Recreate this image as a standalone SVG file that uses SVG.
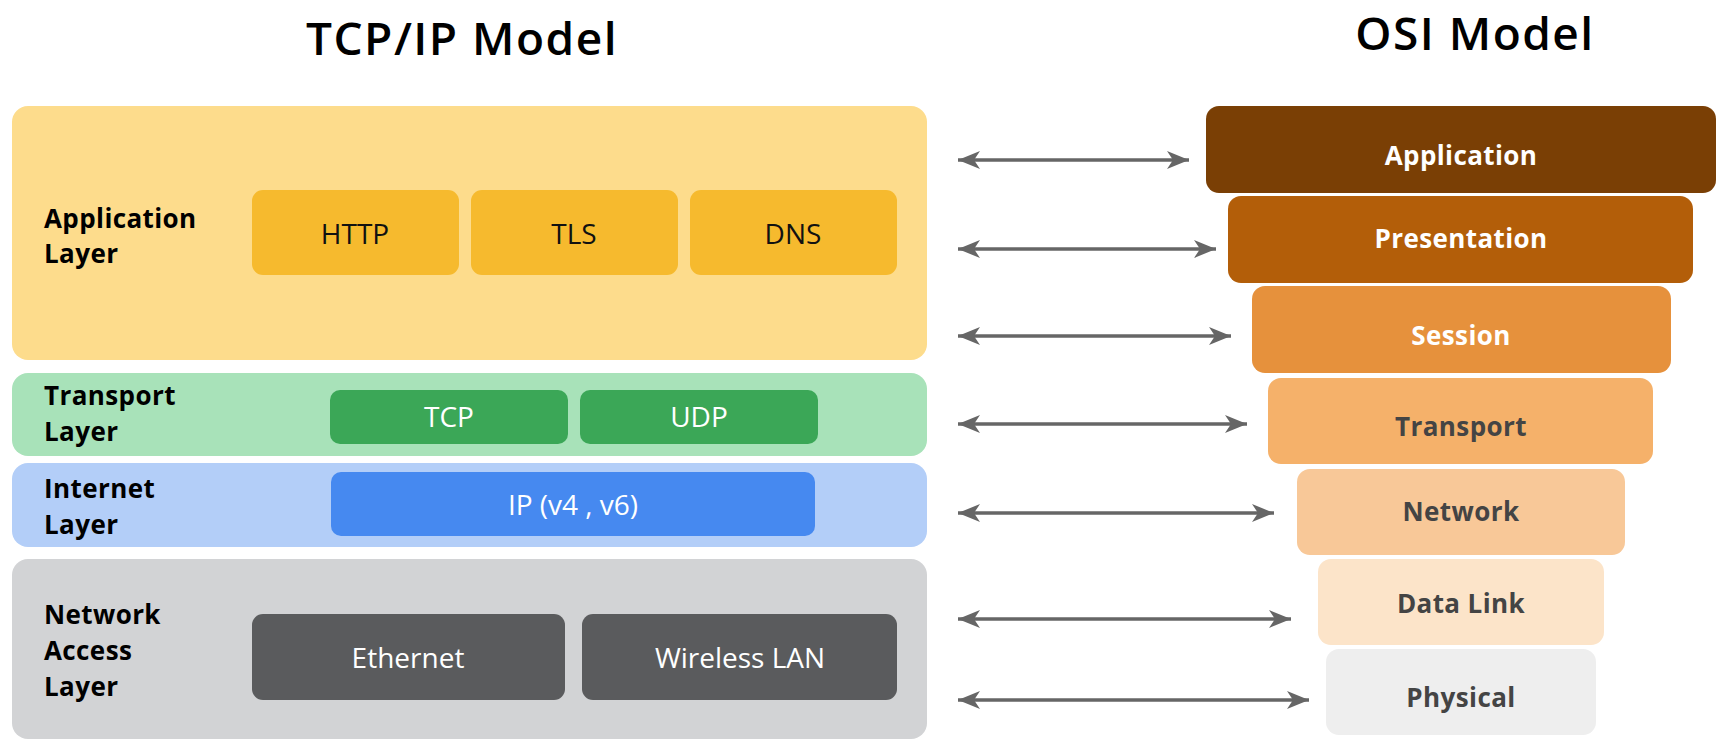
<svg xmlns="http://www.w3.org/2000/svg" width="1726" height="755" viewBox="0 0 1726 755">
<defs>
<style>
text{font-family:"Open Sans","Liberation Sans",sans-serif;}
.title{font-size:46px;font-weight:600;fill:#000;text-anchor:middle;letter-spacing:1.5px;}
.lbl{font-size:26px;font-weight:700;fill:#000;letter-spacing:0.4px;}
.inner{font-size:28px;font-weight:500;text-anchor:middle;dominant-baseline:central;}
.osi{font-size:26px;font-weight:700;text-anchor:middle;dominant-baseline:central;letter-spacing:0.4px;}
.w{fill:#fff;}
.k{fill:#111;}
.g{fill:#444;}
.conn{stroke:#666;stroke-width:3.5;fill:none;marker-start:url(#ah);marker-end:url(#ah);}
</style>
<marker id="ah" markerUnits="userSpaceOnUse" viewBox="-24 -11 26 22" refX="0" refY="0" markerWidth="26" markerHeight="22" orient="auto-start-reverse">
<path d="M0,0 L-22,-9 L-16,0 L-22,9 Z" fill="#666"/>
</marker>
</defs>
<rect width="1726" height="755" fill="#fff"/>
<text class="title" x="462" y="55">TCP/IP Model</text>
<text class="title" x="1475" y="50">OSI Model</text>

<g id="tcp-application">
<rect x="12" y="106" width="915" height="254" rx="16" fill="#FDDC8C"/>
<text class="lbl" x="44" y="228">Application</text>
<text class="lbl" x="44" y="263">Layer</text>
</g>
<g id="http"><rect x="252" y="190" width="207" height="85" rx="11" fill="#F6BA2E"/><text class="inner k" x="355" y="233">HTTP</text></g>
<g id="tls"><rect x="471" y="190" width="207" height="85" rx="11" fill="#F6BA2E"/><text class="inner k" x="574" y="233">TLS</text></g>
<g id="dns"><rect x="690" y="190" width="207" height="85" rx="11" fill="#F6BA2E"/><text class="inner k" x="793" y="233">DNS</text></g>

<g id="tcp-transport">
<rect x="12" y="373" width="915" height="83" rx="16" fill="#A8E2B9"/>
<text class="lbl" x="44" y="405">Transport</text>
<text class="lbl" x="44" y="441">Layer</text>
</g>
<g id="tcp"><rect x="330" y="390" width="238" height="54" rx="10" fill="#3BA757"/><text class="inner w" x="449" y="416">TCP</text></g>
<g id="udp"><rect x="580" y="390" width="238" height="54" rx="10" fill="#3BA757"/><text class="inner w" x="699" y="416">UDP</text></g>

<g id="tcp-internet">
<rect x="12" y="463" width="915" height="84" rx="16" fill="#B3CEF8"/>
<text class="lbl" x="44" y="498">Internet</text>
<text class="lbl" x="44" y="534">Layer</text>
</g>
<g id="ip"><rect x="331" y="472" width="484" height="64" rx="10" fill="#4689F0"/><text class="inner w" x="573" y="504">IP (v4 , v6)</text></g>

<g id="tcp-network-access">
<rect x="12" y="559" width="915" height="180" rx="16" fill="#D2D3D5"/>
<text class="lbl" x="44" y="624">Network</text>
<text class="lbl" x="44" y="660">Access</text>
<text class="lbl" x="44" y="696">Layer</text>
</g>
<g id="ethernet"><rect x="252" y="614" width="313" height="86" rx="11" fill="#5A5B5D"/><text class="inner w" x="408" y="657">Ethernet</text></g>
<g id="wlan"><rect x="582" y="614" width="315" height="86" rx="11" fill="#5A5B5D"/><text class="inner w" x="740" y="657">Wireless LAN</text></g>

<g id="osi-application"><rect x="1206" y="106" width="510" height="87" rx="13" fill="#7A3F05"/><text class="osi w" x="1461" y="155">Application</text></g>
<g id="osi-presentation"><rect x="1228" y="196" width="465" height="87" rx="13" fill="#B35E09"/><text class="osi w" x="1461" y="238">Presentation</text></g>
<g id="osi-session"><rect x="1252" y="286" width="419" height="87" rx="13" fill="#E6913C"/><text class="osi w" x="1461" y="335">Session</text></g>
<g id="osi-transport"><rect x="1268" y="378" width="385" height="86" rx="13" fill="#F5B16A"/><text class="osi g" x="1461" y="426">Transport</text></g>
<g id="osi-network"><rect x="1297" y="469" width="328" height="86" rx="13" fill="#F8C898"/><text class="osi g" x="1461" y="511">Network</text></g>
<g id="osi-datalink"><rect x="1318" y="559" width="286" height="86" rx="13" fill="#FCE4C9"/><text class="osi g" x="1461" y="603">Data Link</text></g>
<g id="osi-physical"><rect x="1326" y="649" width="270" height="86" rx="13" fill="#EEEEEE"/><text class="osi g" x="1461" y="697">Physical</text></g>

<g id="connectors">
<line class="conn" x1="958" y1="160" x2="1189" y2="160"/>
<line class="conn" x1="958" y1="249" x2="1216" y2="249"/>
<line class="conn" x1="958" y1="336" x2="1231" y2="336"/>
<line class="conn" x1="958" y1="424" x2="1247" y2="424"/>
<line class="conn" x1="958" y1="513" x2="1274" y2="513"/>
<line class="conn" x1="958" y1="619" x2="1291" y2="619"/>
<line class="conn" x1="958" y1="700" x2="1309" y2="700"/>
</g>
</svg>
